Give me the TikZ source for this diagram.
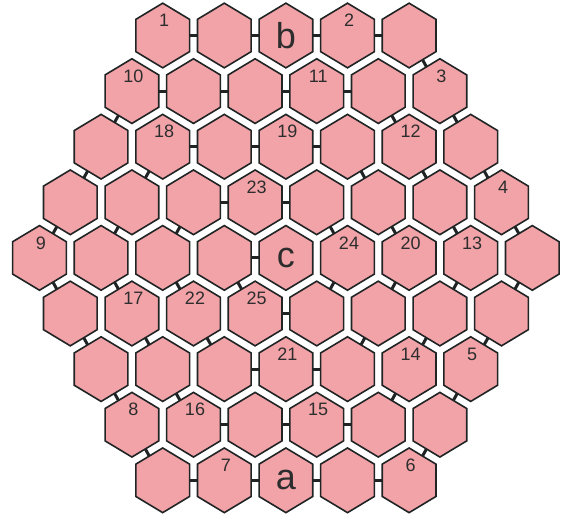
\documentclass[tikz,border=0pt]{standalone}
\usepackage{fontspec}
\setmainfont{Liberation Sans}
\usetikzlibrary{shapes.geometric,calc}
\definecolor{hexfill}{RGB}{242,163,168}
\definecolor{hexline}{RGB}{32,36,36}
\definecolor{txt}{RGB}{45,45,45}
\begin{document}
\begin{tikzpicture}[x=1pt,y=1pt,
  hexcell/.style={regular polygon, regular polygon sides=6, shape border rotate=30,
    minimum size=62pt, inner sep=0pt, outer sep=0pt,
    fill=hexfill, draw=hexline, line width=1.6pt},
  bridge/.style={draw=hexline, line width=3pt},
  num/.style={text=txt, font=\fontsize{18}{18}\selectfont, inner sep=0pt},
  letter/.style={text=txt, font=\fontsize{36}{36}\selectfont, inner sep=0pt}]
\useasboundingbox (0,0) rectangle (561,-522);
\fill[white] (0,0) rectangle (561,-522);
\begin{scope}[yscale=1.043, transform shape]
\foreach \r/\n/\xs in {0/4/162.7,1/5/131.9,2/6/101.1,3/7/70.3,4/8/39.5,5/7/70.3,6/6/101.1,7/5/131.9,8/4/162.7}{
  \foreach \k in {0,...,\n}{
    \node[hexcell] (h\r-\k) at ({\xs+61.6*\k},{-(35.5+55.6*\r)/1.043}) {};
  }
}
\end{scope}
% bridges along the spiral
\foreach \a/\b in {0-0/0-1,0-1/0-2,0-2/0-3,0-3/0-4,0-4/1-5,
  1-0/1-1,1-1/1-2,1-2/1-3,1-3/1-4,1-0/2-0,1-4/2-5,1-5/2-6,
  2-1/2-2,2-2/2-3,2-3/2-4,2-0/3-0,2-1/3-1,2-4/3-5,2-5/3-6,2-6/3-7,
  3-2/3-3,3-3/3-4,3-0/4-0,3-1/4-1,3-2/4-2,3-4/4-5,3-5/4-6,3-6/4-7,3-7/4-8,
  4-3/4-4,4-0/5-0,4-1/5-1,4-2/5-2,4-3/5-3,4-5/5-4,4-6/5-5,4-7/5-6,4-8/5-7,
  5-3/5-4,5-0/6-0,5-1/6-1,5-2/6-2,5-5/6-4,5-6/6-5,5-7/6-6,
  6-2/6-3,6-3/6-4,6-0/7-0,6-1/7-1,6-5/7-4,6-6/7-5,
  7-1/7-2,7-2/7-3,7-3/7-4,7-0/8-0,7-5/8-4,
  8-0/8-1,8-1/8-2,8-2/8-3,8-3/8-4}{
  \draw[bridge] (h\a) -- (h\b);
}
% number labels
\foreach \h/\t in {0-0/1,0-3/2,1-0/10,1-3/11,1-5/3,2-1/18,2-3/19,2-5/12,
  3-3/23,3-7/4,4-0/9,4-5/24,4-6/20,4-7/13,5-1/17,5-2/22,5-3/25,
  6-3/21,6-5/14,6-6/5,7-0/8,7-1/16,7-3/15,8-1/7,8-4/6}{
  \node[num] (t\h) at ($(h\h)+(1.5,15)$) {\t};
}
% letter labels
\node[letter] (lb) at (h0-2) {b};
\node[letter] (lc) at (h4-4) {c};
\node[letter] (la) at (h8-2) {a};
\end{tikzpicture}
\end{document}
